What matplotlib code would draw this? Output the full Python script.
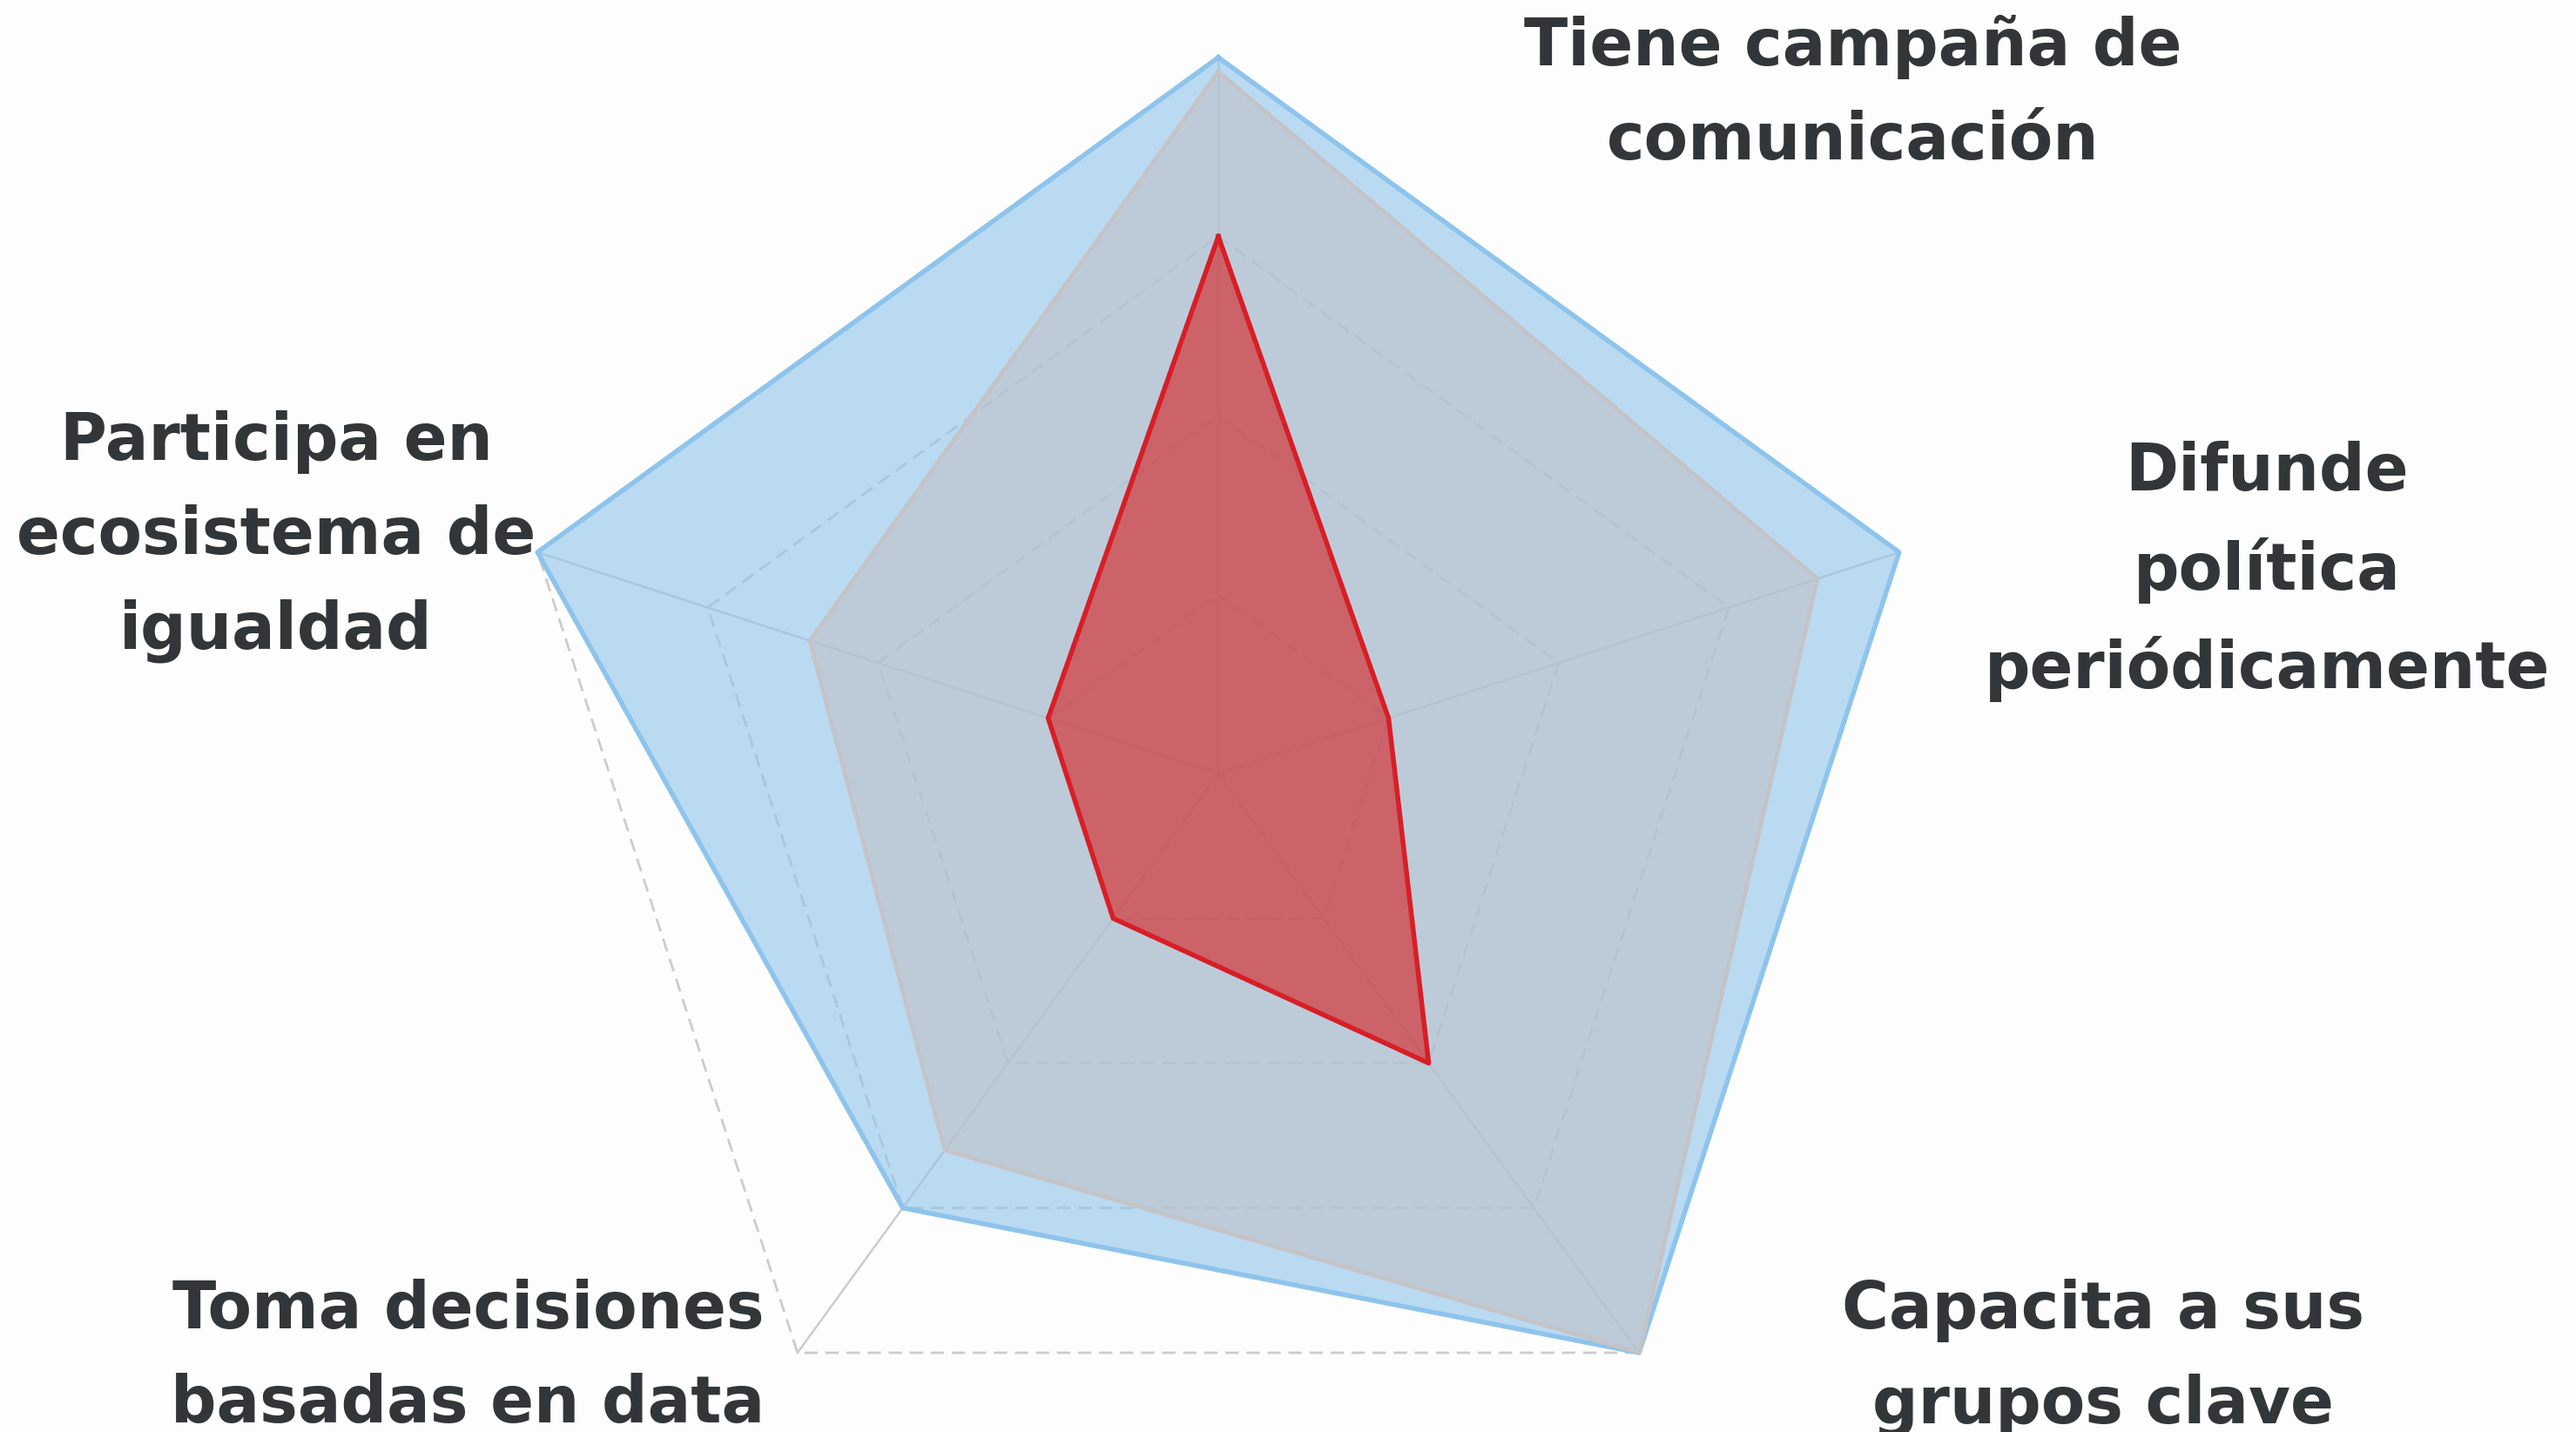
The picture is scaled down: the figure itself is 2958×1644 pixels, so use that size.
"""Radar chart: igualdad practices, three profiles on five axes."""
import matplotlib
matplotlib.use("Agg")
import matplotlib.pyplot as plt
import numpy as np

labels = [
    "Tiene campaña de\ncomunicación",
    "Difunde\npolítica\nperiódicamente",
    "Capacita a sus\ngrupos clave",
    "Toma decisiones\nbasadas en data",
    "Participa en\necosistema de\nigualdad",
]
grid_levels = [0.25, 0.5, 0.75, 1.0]
blue_values = [1.0, 1.0, 1.0, 0.75, 1.0]
gray_values = [0.98, 0.88, 1.0, 0.65, 0.60]
red_values = [0.75, 0.25, 0.50, 0.25, 0.25]

# label anchor points (data units, radius 1 = outer ring)
label_x = [0.887, 1.465, 1.236, -1.048, -1.316]
label_y = [0.949, 0.282, -0.816, -0.816, 0.331]

W, H, DPI = 2958, 1644, 100
cx, cy, R = 1399, 888, 822   # centre and outer radius in pixels

# first axis straight up, going clockwise
theta = np.pi / 2 - np.arange(len(labels)) * 2 * np.pi / len(labels)


def to_xy(values):
    v = np.asarray(values, dtype=float)
    x = v * np.cos(theta)
    y = v * np.sin(theta)
    return np.append(x, x[0]), np.append(y, y[0])


fig = plt.figure(figsize=(W / DPI, H / DPI), dpi=DPI, facecolor="#fdfdfd")
ax = fig.add_axes([0, 0, 1, 1])
ax.set_facecolor("#fdfdfd")
ax.set_xlim(-cx / R, (W - cx) / R)
ax.set_ylim(-(H - cy) / R, cy / R)
ax.axis("off")

grid_c = "#cccccc"
# spokes
for t in theta:
    ax.plot([0, np.cos(t)], [0, np.sin(t)], color=grid_c, lw=1.8, zorder=1)
# dashed rings
for lev in grid_levels:
    gx, gy = to_xy([lev] * len(labels))
    ax.plot(gx, gy, color=grid_c, lw=2.0, ls=(0, (5.5, 3.2)), zorder=1)

bx, by = to_xy(blue_values)
ax.fill(bx, by, color="#8ec4ec", alpha=0.6, lw=0, zorder=2)
ax.plot(bx, by, color="#8ec4ec", lw=4.0, zorder=2.1)

gx, gy = to_xy(gray_values)
ax.fill(gx, gy, color="#c0c0c5", alpha=0.55, lw=0, zorder=3)
ax.plot(gx, gy, color="#c4c4c8", lw=3.6, zorder=3.1)

rx, ry = to_xy(red_values)
ax.fill(rx, ry, color="#d51e1e", alpha=0.6, lw=0, zorder=4)
ax.plot(rx, ry, color="#d81e27", lw=4.0, zorder=4.1)

for lab, x, y in zip(labels, label_x, label_y):
    ax.text(x, y, lab, ha="center", va="center", fontsize=53,
            fontweight="bold", color="#323638", family="DejaVu Sans",
            linespacing=1.62)

fig.savefig("out.png", dpi=DPI, facecolor=fig.get_facecolor())
